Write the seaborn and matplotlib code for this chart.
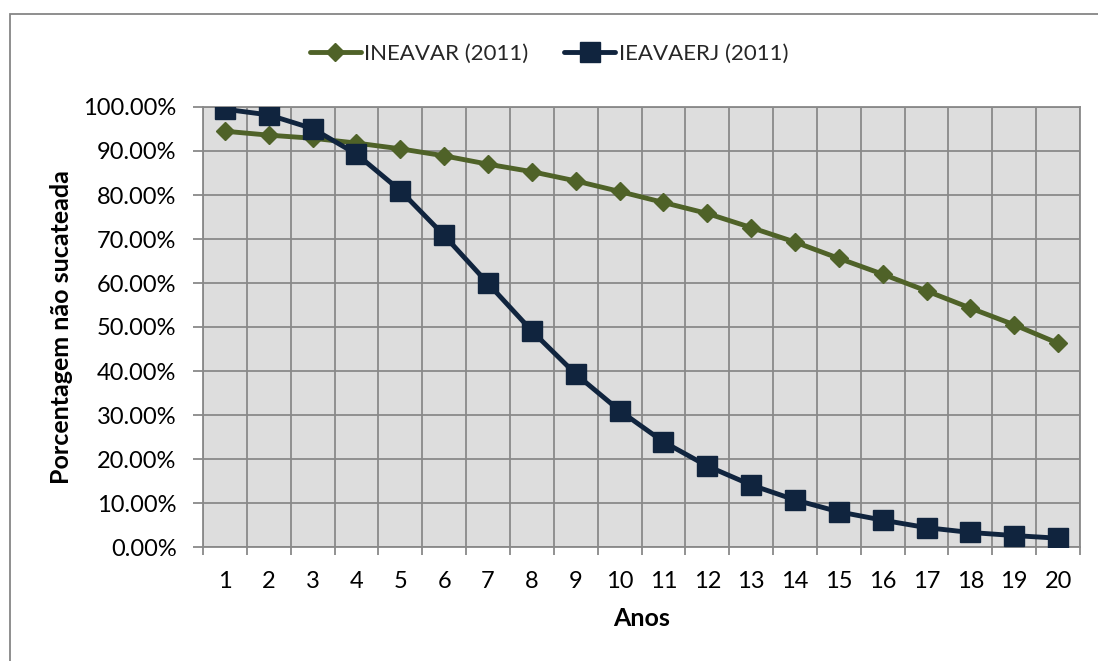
import numpy as np
import pandas as pd
import matplotlib
matplotlib.use("Agg")
import matplotlib.pyplot as plt
import seaborn as sns
from matplotlib.patches import Rectangle
from matplotlib.ticker import FuncFormatter, MultipleLocator, FixedLocator

anos = list(range(1, 21))
ineavar = [94.5, 93.6, 92.9, 91.8, 90.5, 88.9, 87.0, 85.3, 83.2, 80.8,
           78.3, 75.8, 72.6, 69.3, 65.6, 62.0, 58.2, 54.3, 50.5, 46.3]
ieavaerj = [99.5, 98.2, 95.1, 89.3, 81.0, 70.8, 59.9, 49.1, 39.3, 31.0,
            23.9, 18.4, 14.1, 10.7, 8.0, 6.1, 4.4, 3.3, 2.6, 2.0]
series_names = ["INEAVAR (2011)", "IEAVAERJ (2011)"]

sns.set_theme(style="white")
plt.rcParams['font.family'] = ['Lato', 'DejaVu Sans']

fig = plt.figure(figsize=(10.98, 6.61), dpi=100)
ax = fig.add_axes([203/1098, 1 - 547/661, (1080-203)/1098, (547-107)/661])

df1 = pd.DataFrame({"Anos": anos, "val": ineavar})
df2 = pd.DataFrame({"Anos": anos, "val": ieavaerj})
green = "#4F6228"
navy = "#10243E"
sns.lineplot(data=df1, x="Anos", y="val", ax=ax, color=green, lw=3.5,
             marker="D", markersize=9, markeredgecolor=green, markeredgewidth=1,
             label=series_names[0], zorder=3)
sns.lineplot(data=df2, x="Anos", y="val", ax=ax, color=navy, lw=3.5,
             marker="s", markersize=14, markeredgecolor=navy, markeredgewidth=1,
             label=series_names[1], zorder=4)

ax.set_facecolor("#DDDDDD")
ax.set_xlim(0.5, 20.5)
ax.set_ylim(0, 100)
gridc = "#898989"
ax.yaxis.set_major_locator(MultipleLocator(10))
ax.yaxis.set_major_formatter(FuncFormatter(lambda v, p: f"{v:.2f}%"))
ax.xaxis.set_major_locator(FixedLocator(anos))
ax.xaxis.set_minor_locator(FixedLocator([a + 0.5 for a in range(0, 21)]))
ax.grid(False)
ax.yaxis.grid(True, which="major", color=gridc, lw=1.3)
ax.xaxis.grid(True, which="minor", color=gridc, lw=1.3)
ax.set_axisbelow(True)
for s in ax.spines.values():
    s.set_color(gridc)
    s.set_linewidth(1.3)
ax.tick_params(axis="x", which="major", length=0, pad=17, labelsize=17, labelcolor="black")
ax.tick_params(axis="x", which="minor", length=6, width=1.3, color=gridc, direction="out", bottom=True)
ax.tick_params(axis="y", which="major", length=7, width=1.3, color=gridc, direction="out",
               left=True, pad=12, labelsize=17, labelcolor="black")

ax.set_xlabel("Anos", fontsize=18, fontweight="bold", color="black")
ax.set_ylabel("Porcentagem não sucateada", fontsize=18, fontweight="bold", color="black")
ax.yaxis.set_label_coords((73 - 203) / 877, 0.5)
ax.xaxis.set_label_coords(0.5, (547 - 607) / 440)

handles, labels = ax.get_legend_handles_labels()
ax.get_legend().remove()
fig.legend(handles, labels, loc="center", bbox_to_anchor=(0.5, 1 - 54/661), ncol=2,
           frameon=False, fontsize=16, handlelength=2.3, handletextpad=0.15, columnspacing=1.6)

fig.patches.append(Rectangle((10/1098, -0.2), 1.5, 1.2 - 14/661, transform=fig.transFigure,
                             fill=False, edgecolor="#868686", lw=1.3))

fig.savefig("out.png", dpi=100)
